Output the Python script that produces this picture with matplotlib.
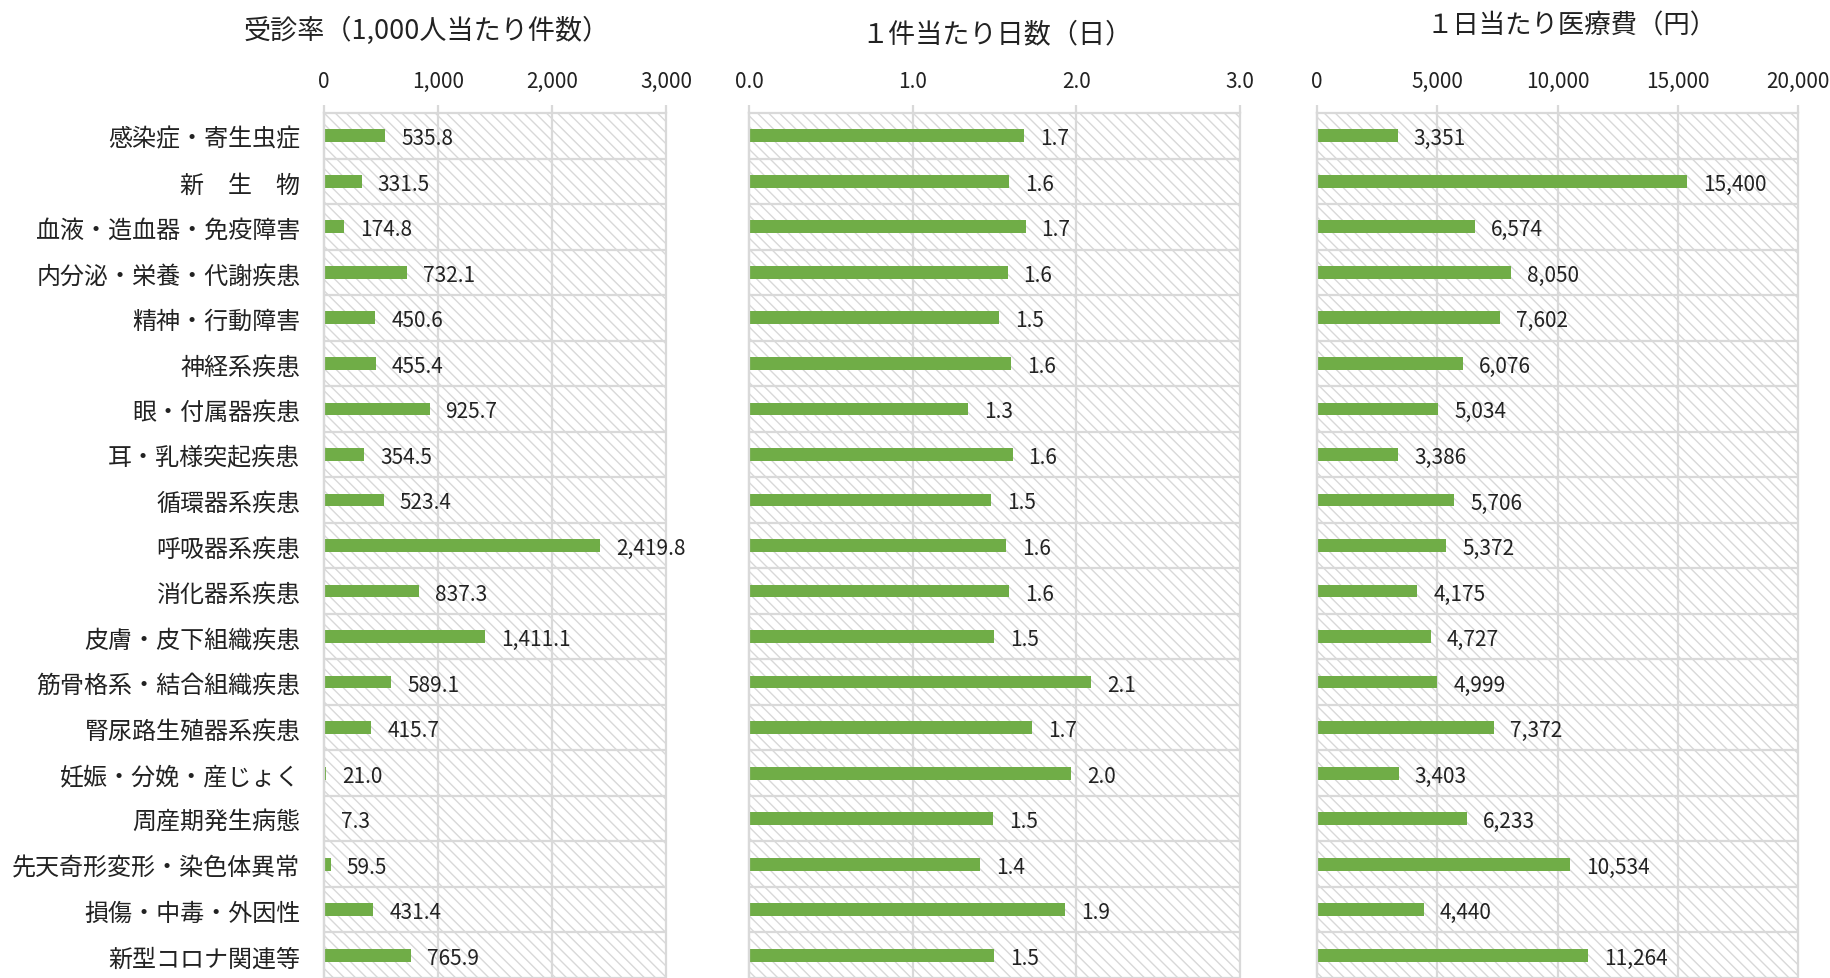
import matplotlib
matplotlib.use('Agg')
import matplotlib.pyplot as plt
from matplotlib.patches import Rectangle

plt.rcParams['font.family'] = ['Noto Sans CJK JP', 'DejaVu Sans']
plt.rcParams['hatch.linewidth'] = 1.0

categories = ['感染症・寄生虫症', '新　生　物', '血液・造血器・免疫障害', '内分泌・栄養・代謝疾患',
              '精神・行動障害', '神経系疾患', '眼・付属器疾患', '耳・乳様突起疾患', '循環器系疾患',
              '呼吸器系疾患', '消化器系疾患', '皮膚・皮下組織疾患', '筋骨格系・結合組織疾患',
              '腎尿路生殖器系疾患', '妊娠・分娩・産じょく', '周産期発生病態', '先天奇形変形・染色体異常',
              '損傷・中毒・外因性', '新型コロナ関連等']

titles = ['受診率（1,000人当たり件数）', '１件当たり日数（日）', '１日当たり医療費（円）']

rate = [535.8, 331.5, 174.8, 732.1, 450.6, 455.4, 925.7, 354.5, 523.4, 2419.8,
        837.3, 1411.1, 589.1, 415.7, 21.0, 7.3, 59.5, 431.4, 765.9]
days = [1.68, 1.59, 1.69, 1.58, 1.53, 1.60, 1.34, 1.61, 1.48, 1.57,
        1.59, 1.50, 2.09, 1.73, 1.97, 1.49, 1.41, 1.93, 1.50]
cost = [3351, 15400, 6574, 8050, 7602, 6076, 5034, 3386, 5706, 5372,
        4175, 4727, 4999, 7372, 3403, 6233, 10534, 4440, 11264]

rate_ticks = [0, 1000, 2000, 3000]
days_ticks = [0.0, 1.0, 2.0, 3.0]
cost_ticks = [0, 5000, 10000, 15000, 20000]

W, H = 1831, 979
fig = plt.figure(figsize=(W / 100, H / 100), dpi=100)

GRID = '#D9D9D9'
HATCH = '#D8D8D8'
BAR = '#70AD47'
TXT = '#222222'

panels = [
    (rate, rate_ticks, 324, 666, '{:,.0f}', '{:,.1f}'),
    (days, days_ticks, 749, 1240, '{:.1f}', '{:.1f}'),
    (cost, cost_ticks, 1317, 1798, '{:,.0f}', '{:,.0f}'),
]
title_pos = [(427, 31), (997, 35), (1572, 26)]
title_size = [19.5, 19.5, 19.0]

top_px, bot_px = 114, 979
n = len(categories)
ypos = list(range(n))

for k, (vals, ticks, x0, x1, tfmt, lfmt) in enumerate(panels):
    ax = fig.add_axes([x0 / W, 1 - bot_px / H, (x1 - x0) / W, (bot_px - top_px) / H])
    ax.set_xlim(ticks[0], ticks[-1])
    ax.set_ylim(n - 0.5, -0.5)
    ax.add_patch(Rectangle((0, 0), 1, 1, transform=ax.transAxes, facecolor='white',
                           edgecolor=HATCH, hatch='\\\\\\', lw=0, zorder=0))
    for t in ticks:
        ax.axvline(t, color=GRID, lw=1.6, zorder=1, clip_on=False)
    for j in range(n):
        ax.axhline(j + 0.5, color=GRID, lw=1.6, zorder=1)
    ax.barh(ypos, vals, height=0.28, color=BAR, zorder=2)
    for j, v in enumerate(vals):
        ax.annotate(lfmt.format(v), xy=(v, j), xytext=(11.5, 0), textcoords='offset points',
                    va='center_baseline', ha='left', fontsize=15, color=TXT, zorder=3)
    ax.xaxis.tick_top()
    ax.set_xticks(ticks)
    ax.set_xticklabels([tfmt.format(t) for t in ticks], fontsize=15, color=TXT)
    ax.tick_params(axis='x', length=6, width=1.6, color=GRID, pad=9)
    for s in ['bottom', 'right']:
        ax.spines[s].set_visible(False)
    for s in ['top', 'left']:
        ax.spines[s].set_color(GRID)
        ax.spines[s].set_linewidth(1.6)
    ax.set_yticks(ypos)
    if k == 0:
        ax.set_yticklabels(categories, fontsize=17.3, color=TXT, va='center_baseline')
        ax.tick_params(axis='y', length=0, pad=17)
    else:
        ax.set_yticklabels([])
        ax.tick_params(axis='y', length=0)
    tx, ty = title_pos[k]
    fig.text(tx / W, 1 - ty / H, titles[k], ha='center', va='center',
             fontsize=title_size[k], color=TXT)

fig.savefig('out.png', dpi=100)
